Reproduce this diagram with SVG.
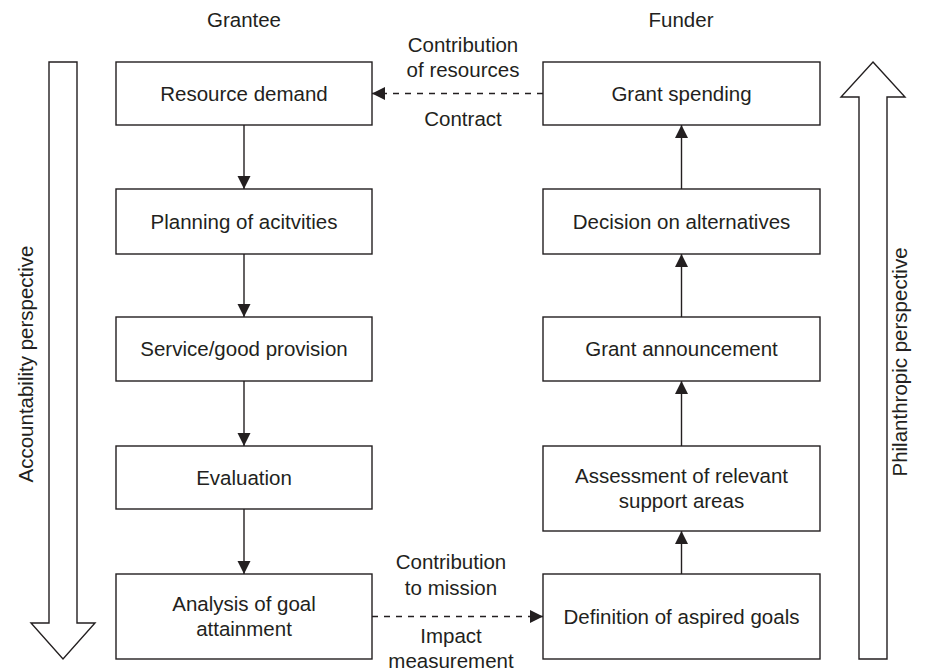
<svg xmlns="http://www.w3.org/2000/svg" width="925" height="672" viewBox="0 0 925 672">
  <style>
    .box { fill: #ffffff; stroke: #231f20; stroke-width: 1.4; }
    .big { fill: #ffffff; stroke: #231f20; stroke-width: 1.4; stroke-linejoin: miter; }
    .lbl { font-family: "Liberation Sans", Arial, sans-serif; font-size: 20.5px; fill: #231f20; text-anchor: middle; }
    .flow { stroke: #231f20; stroke-width: 1.4; fill: none; marker-end: url(#head); }
    .dash { stroke: #231f20; stroke-width: 1.4; fill: none; stroke-dasharray: 6 6; marker-end: url(#head); }
  </style>
  <defs>
    <marker id="head" markerUnits="userSpaceOnUse" markerWidth="13" markerHeight="14" refX="13" refY="6.5" orient="auto">
      <path d="M0,0 L13,6.5 L0,13 Z" fill="#231f20"/>
    </marker>
  </defs>
  <rect width="925" height="672" fill="#ffffff"/>

  <!-- column headings -->
  <text class="lbl" x="244" y="27">Grantee</text>
  <text class="lbl" x="681" y="27">Funder</text>

  <!-- perspective arrows -->
  <g id="accountability">
    <path class="big" d="M49,62 L77,62 L77,623 L95,623 L63,659 L31,623 L49,623 Z"/>
    <text class="lbl" transform="translate(33,364) rotate(-90)" x="0" y="0">Accountability perspective</text>
  </g>
  <g id="philanthropic">
    <path class="big" d="M873,62 L905,97 L887,97 L887,659 L859,659 L859,97 L841,97 Z"/>
    <text class="lbl" transform="translate(907,362) rotate(-90)" x="0" y="0">Philanthropic perspective</text>
  </g>

  <!-- grantee column -->
  <g id="resource-demand">
    <rect class="box" x="116" y="62" width="256" height="63"/>
    <text class="lbl" x="244" y="100.5">Resource demand</text>
  </g>
  <g id="planning">
    <rect class="box" x="116" y="189" width="256" height="65"/>
    <text class="lbl" x="244" y="228.5">Planning of acitvities</text>
  </g>
  <g id="service">
    <rect class="box" x="116" y="317" width="256" height="64"/>
    <text class="lbl" x="244" y="356">Service/good provision</text>
  </g>
  <g id="evaluation">
    <rect class="box" x="116" y="446" width="256" height="63"/>
    <text class="lbl" x="244" y="484.5">Evaluation</text>
  </g>
  <g id="analysis">
    <rect class="box" x="116" y="574" width="256" height="85"/>
    <text class="lbl" x="244" y="611">Analysis of goal</text>
    <text class="lbl" x="244" y="636">attainment</text>
  </g>

  <!-- funder column -->
  <g id="grant-spending">
    <rect class="box" x="543" y="62" width="277" height="63"/>
    <text class="lbl" x="681.5" y="100.5">Grant spending</text>
  </g>
  <g id="decision">
    <rect class="box" x="543" y="189" width="277" height="65"/>
    <text class="lbl" x="681.5" y="228.5">Decision on alternatives</text>
  </g>
  <g id="announcement">
    <rect class="box" x="543" y="317" width="277" height="64"/>
    <text class="lbl" x="681.5" y="356">Grant announcement</text>
  </g>
  <g id="assessment">
    <rect class="box" x="543" y="446" width="277" height="85"/>
    <text class="lbl" x="681.5" y="483">Assessment of relevant</text>
    <text class="lbl" x="681.5" y="508">support areas</text>
  </g>
  <g id="definition">
    <rect class="box" x="543" y="574" width="277" height="85"/>
    <text class="lbl" x="681.5" y="623.5">Definition of aspired goals</text>
  </g>

  <!-- connectors -->
  <g id="connectors">
    <line class="flow" x1="244" y1="125" x2="244" y2="189"/>
    <line class="flow" x1="244" y1="254" x2="244" y2="317"/>
    <line class="flow" x1="244" y1="381" x2="244" y2="446"/>
    <line class="flow" x1="244" y1="509" x2="244" y2="574"/>

    <line class="flow" x1="681.5" y1="574" x2="681.5" y2="531"/>
    <line class="flow" x1="681.5" y1="446" x2="681.5" y2="381"/>
    <line class="flow" x1="681.5" y1="317" x2="681.5" y2="254"/>
    <line class="flow" x1="681.5" y1="189" x2="681.5" y2="125"/>

    <line class="dash" x1="543" y1="93.5" x2="372" y2="93.5"/>
    <line class="dash" x1="372" y1="616.5" x2="543" y2="616.5"/>

    <text class="lbl" x="463" y="52">Contribution</text>
    <text class="lbl" x="463" y="77">of resources</text>
    <text class="lbl" x="463" y="126">Contract</text>

    <text class="lbl" x="451" y="569">Contribution</text>
    <text class="lbl" x="451" y="595">to mission</text>
    <text class="lbl" x="451" y="643">Impact</text>
    <text class="lbl" x="451" y="668">measurement</text>
  </g>
</svg>
